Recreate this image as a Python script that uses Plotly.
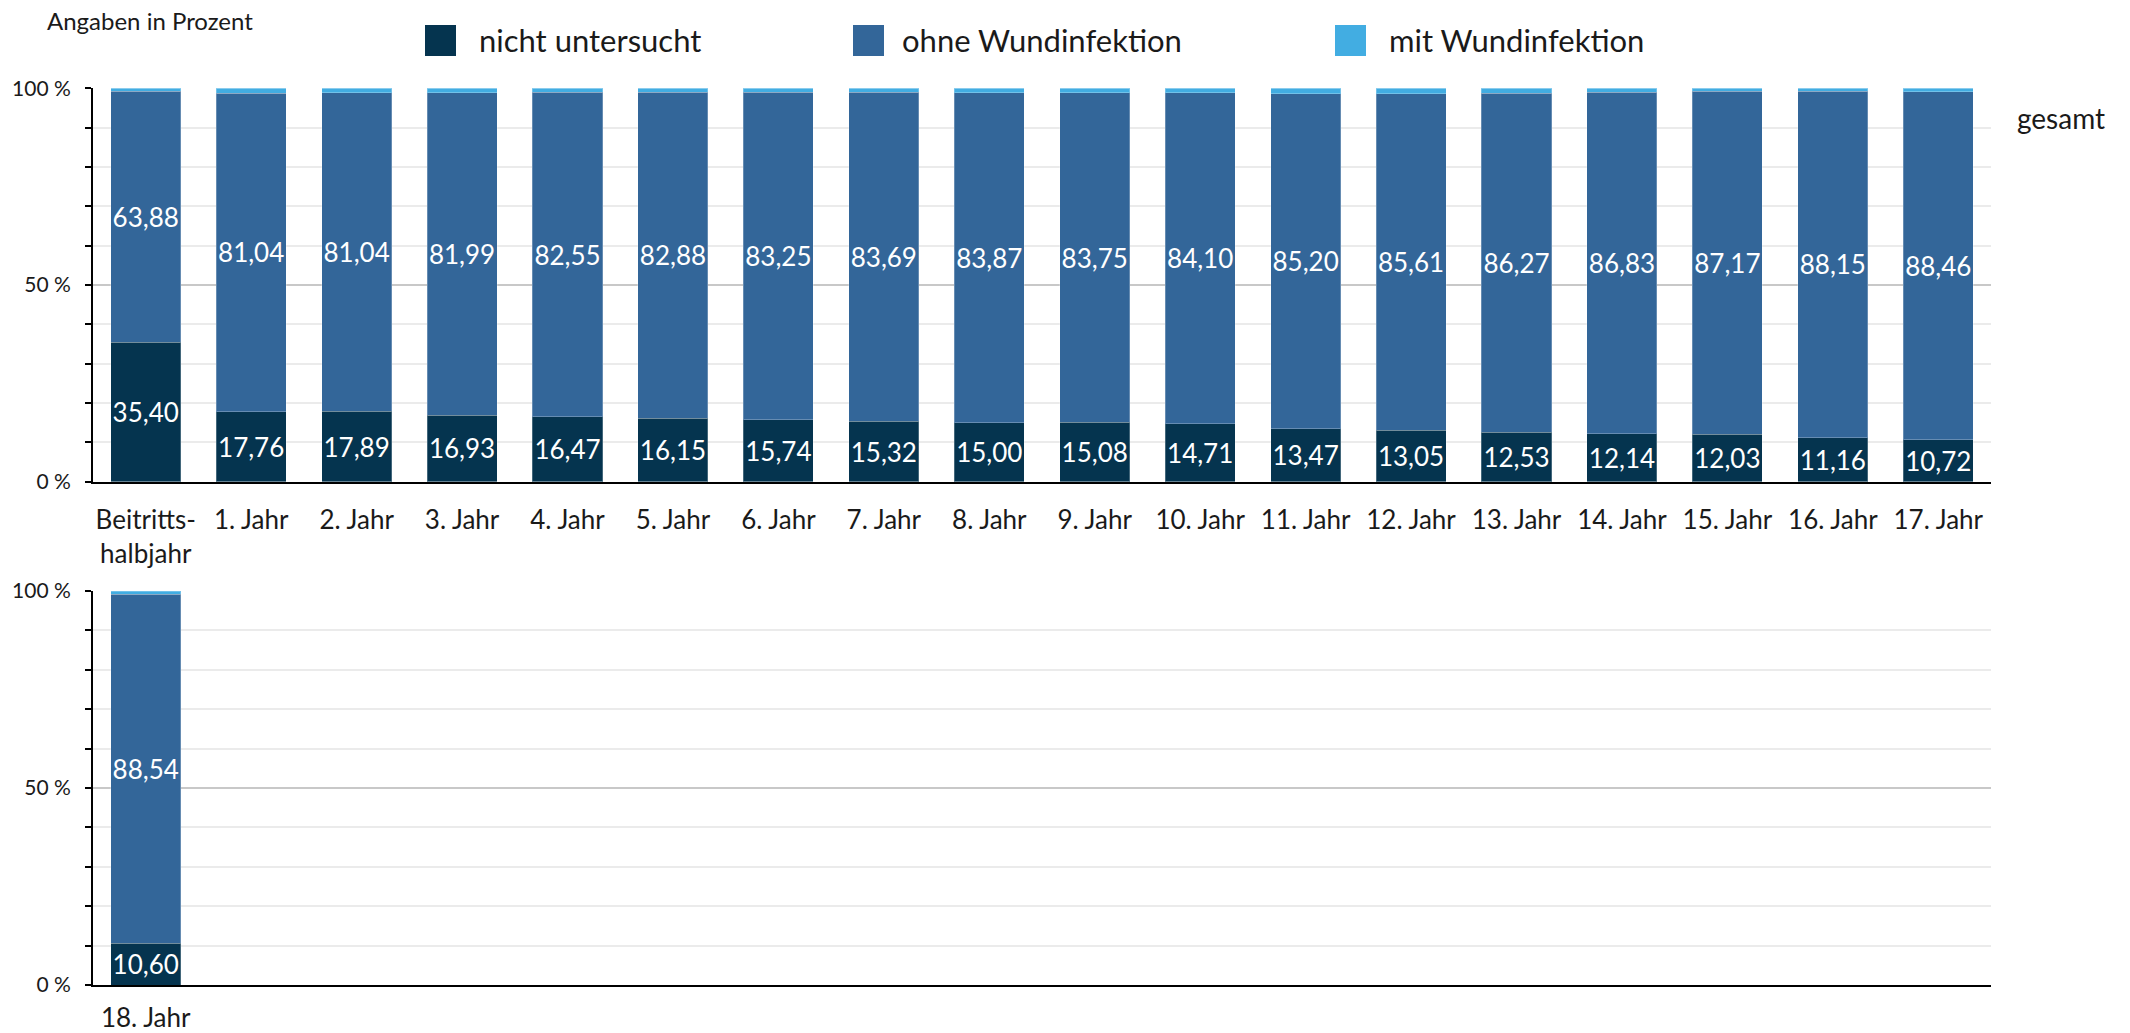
import plotly.graph_objects as go

# ---------------- data ----------------
categories_top = ["Beitritts-<br>halbjahr", "1. Jahr", "2. Jahr", "3. Jahr", "4. Jahr", "5. Jahr",
                  "6. Jahr", "7. Jahr", "8. Jahr", "9. Jahr", "10. Jahr", "11. Jahr", "12. Jahr",
                  "13. Jahr", "14. Jahr", "15. Jahr", "16. Jahr", "17. Jahr"]
nicht_untersucht_top = [35.40, 17.76, 17.89, 16.93, 16.47, 16.15, 15.74, 15.32, 15.00, 15.08,
                        14.71, 13.47, 13.05, 12.53, 12.14, 12.03, 11.16, 10.72]
ohne_wundinfektion_top = [63.88, 81.04, 81.04, 81.99, 82.55, 82.88, 83.25, 83.69, 83.87, 83.75,
                          84.10, 85.20, 85.61, 86.27, 86.83, 87.17, 88.15, 88.46]
mit_wundinfektion_top = [0.72, 1.20, 1.07, 1.08, 0.98, 0.97, 1.01, 0.99, 1.13, 1.17,
                         1.19, 1.33, 1.34, 1.20, 1.03, 0.80, 0.69, 0.82]

categories_bottom = ["18. Jahr"]
nicht_untersucht_bottom = [10.60]
ohne_wundinfektion_bottom = [88.54]
mit_wundinfektion_bottom = [0.86]

series_names = ["nicht untersucht", "ohne Wundinfektion", "mit Wundinfektion"]
y_tick_values = [0, 50, 100]
y_tick_labels = ["0 %", "50 %", "100 %"]

# ---------------- styling ----------------
W, H = 2130, 1033
FONT = "Lato"
colors = ["#05344f", "#336699", "#42ade2"]
n_slots = len(categories_top)
BAR_W = 0.664


def px_x(x):
    return x / W


def px_y(y):
    return 1 - y / H


fig = go.Figure()

panels = [
    ("x", "y", categories_top, [nicht_untersucht_top, ohne_wundinfektion_top, mit_wundinfektion_top]),
    ("x2", "y2", categories_bottom, [nicht_untersucht_bottom, ohne_wundinfektion_bottom, mit_wundinfektion_bottom]),
]

for xa, ya, cats, series in panels:
    xs = list(range(len(cats)))
    for i, (name, vals) in enumerate(zip(series_names, series)):
        fig.add_trace(go.Bar(
            x=xs, y=vals, name=name, xaxis=xa, yaxis=ya,
            width=BAR_W,
            marker=dict(color=colors[i], line=dict(width=1, color="rgba(255,255,255,0.25)")),
            text=vals if i < 2 else None,
            texttemplate="%{y:.2f}" if i < 2 else None,
            textposition="inside" if i < 2 else "none",
            insidetextanchor="middle",
            textangle=0,
            constraintext="none",
            textfont=dict(family=FONT, size=26, color="white"),
            showlegend=False,
            hoverinfo="skip",
        ))

xdom = [px_x(93), px_x(1991)]
top_dom = [px_y(481.7), px_y(88.3)]
bot_dom = [px_y(985), px_y(591)]

common_y = dict(
    range=[0, 100], tickvals=y_tick_values, ticktext=y_tick_labels,
    tickfont=dict(family=FONT, size=21, color="#1a1a1a"),
    ticks="outside", ticklen=6, tickwidth=2, tickcolor="black",
    ticklabelstandoff=10,
    showline=True, linecolor="black", linewidth=2,
    showgrid=True, gridcolor="#c8c8c8", gridwidth=2,
    zeroline=False, fixedrange=True, automargin=False,
    minor=dict(dtick=10, tick0=0, showgrid=True, gridcolor="#ebebeb", gridwidth=2,
               ticks="outside", ticklen=6, tickwidth=2, tickcolor="black"),
)
common_x = dict(
    range=[-0.5, n_slots - 0.5], showline=True, linecolor="black", linewidth=2,
    showgrid=False, zeroline=False, ticks="outside", tickcolor="rgba(0,0,0,0)",
    tickfont=dict(family=FONT, size=26, color="#1a1a1a"), tickangle=0,
    fixedrange=True, automargin=False,
)

fig.update_layout(
    width=W, height=H,
    margin=dict(l=0, r=0, t=0, b=0),
    paper_bgcolor="white", plot_bgcolor="white",
    barmode="stack", bargap=0.336,
    separators=",.",
    font=dict(family=FONT, color="#1a1a1a"),
    showlegend=False,
    xaxis=dict(domain=xdom, anchor="y", tickvals=list(range(len(categories_top))),
               ticktext=categories_top, ticklen=14, **common_x),
    yaxis=dict(domain=top_dom, anchor="x", **common_y),
    xaxis2=dict(domain=xdom, anchor="y2", tickvals=list(range(len(categories_bottom))),
                ticktext=categories_bottom, ticklen=9, **common_x),
    yaxis2=dict(domain=bot_dom, anchor="x2", **common_y),
)

# manual legend (large square swatches)
legend_items = [(425, 477), (853, 900), (1335, 1387)]
for (sx, tx), name, col in zip(legend_items, series_names, colors):
    fig.add_shape(type="rect", xref="paper", yref="paper",
                  x0=px_x(sx), x1=px_x(sx + 31), y0=px_y(56), y1=px_y(25),
                  fillcolor=col, line=dict(width=0))
    fig.add_annotation(xref="paper", yref="paper", x=px_x(tx), y=px_y(40),
                       text=name, showarrow=False, xanchor="left", yanchor="middle",
                       font=dict(family=FONT, size=31, color="#1a1a1a"))

fig.add_annotation(xref="paper", yref="paper", x=px_x(45), y=px_y(20),
                   text="Angaben in Prozent", showarrow=False, xanchor="left", yanchor="middle",
                   font=dict(family=FONT, size=24, color="#1a1a1a"))
fig.add_annotation(xref="paper", yref="paper", x=px_x(2015), y=px_y(118),
                   text="gesamt", showarrow=False, xanchor="left", yanchor="middle",
                   font=dict(family=FONT, size=28, color="#1a1a1a"))

fig.write_html("out.html", config={"displayModeBar": False, "staticPlot": True},
               post_script="document.body.style.margin='0';")
